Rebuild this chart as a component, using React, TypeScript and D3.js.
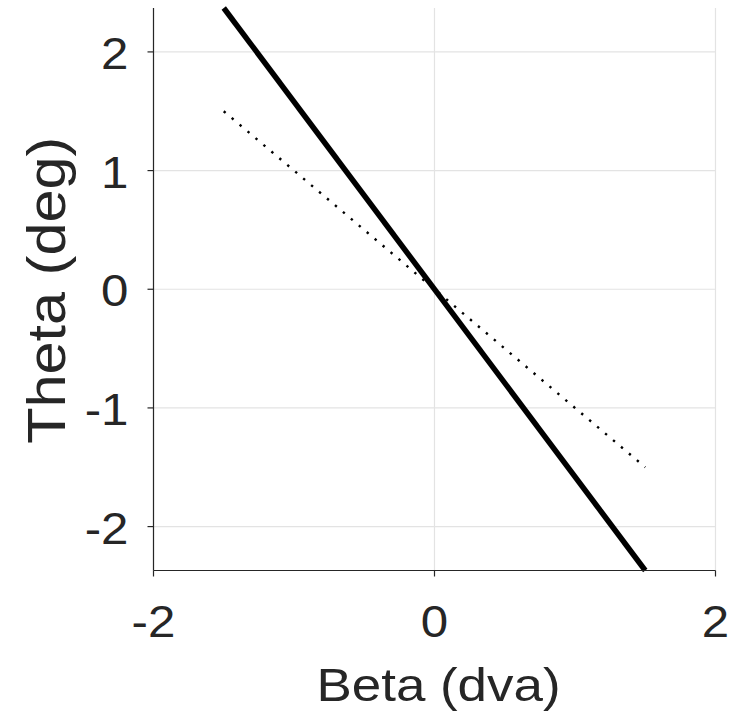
import React from "react";
import * as d3 from "d3";

const xTicks = [-2, 0, 2];
const yTicks = [-2, -1, 0, 1, 2];
const xDomain = [-2, 2];
const yDomain = [-2.37, 2.37];
const solidX = [-1.5, 1.5];
const solidY = [2.37, -2.37];
const dottedX = [-1.5, 1.5];
const dottedY = [1.5, -1.5];
const xLabel = "Beta (dva)";
const yLabel = "Theta (deg)";

const W = 737;
const H = 717;
const left = 153.5;
const right = 715.5;
const top = 8;
const bottom = 570.5;
const textColor = "#262626";
const font = "'Liberation Sans', Arial, Helvetica, sans-serif";

export default function App() {
  const x = d3.scaleLinear().domain(xDomain).range([left, right]);
  const y = d3.scaleLinear().domain(yDomain).range([bottom, top]);
  const line = d3
    .line<[number, number]>()
    .x((d) => x(d[0]))
    .y((d) => y(d[1]));
  const solid = solidX.map((v, i) => [v, solidY[i]] as [number, number]);
  const dotted = dottedX.map((v, i) => [v, dottedY[i]] as [number, number]);

  return (
    <svg
      width={W}
      height={H}
      style={{ position: "absolute", left: 0, top: 0, background: "#fff" }}
      fontFamily={font}
    >
      <rect x={0} y={0} width={W} height={H} fill="#fff" />
      {/* grid */}
      {xTicks.map((t) => (
        <line
          key={"gx" + t}
          x1={x(t)}
          x2={x(t)}
          y1={top}
          y2={bottom}
          stroke="#e3e3e3"
          strokeWidth={1.2}
        />
      ))}
      {yTicks.map((t) => (
        <line
          key={"gy" + t}
          x1={left}
          x2={right}
          y1={y(t)}
          y2={y(t)}
          stroke="#e3e3e3"
          strokeWidth={1.2}
        />
      ))}
      {/* data */}
      <path
        d={line(dotted) || ""}
        fill="none"
        stroke="#000"
        strokeWidth={2.4}
        strokeDasharray="2.4 8"
      />
      <path d={line(solid) || ""} fill="none" stroke="#000" strokeWidth={5.5} />
      {/* axes */}
      <line x1={left} x2={left} y1={top} y2={bottom} stroke={textColor} strokeWidth={1.2} />
      <line x1={left} x2={right} y1={bottom} y2={bottom} stroke={textColor} strokeWidth={1.2} />
      {yTicks.map((t) => (
        <g key={"ty" + t}>
          <line x1={left - 6} x2={left} y1={y(t)} y2={y(t)} stroke={textColor} strokeWidth={1.2} />
          <text
            transform={`translate(${left - 25},${y(t) + 17}) scale(1.12,1)`}
            textAnchor="end"
            fontSize={44}
            fill={textColor}
          >
            {t < 0 ? "-" + Math.abs(t) : String(t)}
          </text>
        </g>
      ))}
      {xTicks.map((t) => (
        <g key={"tx" + t}>
          <line x1={x(t)} x2={x(t)} y1={bottom} y2={bottom + 6} stroke={textColor} strokeWidth={1.2} />
          <text
            transform={`translate(${x(t)},${bottom + 66}) scale(1.12,1)`}
            textAnchor="middle"
            fontSize={44}
            fill={textColor}
          >
            {t < 0 ? "-" + Math.abs(t) : String(t)}
          </text>
        </g>
      ))}
      <text
        transform={`translate(${(left + right) / 2 + 4},${701}) scale(1.15,1)`}
        textAnchor="middle"
        fontSize={46}
        fill={textColor}
      >
        {xLabel}
      </text>
      <text
        transform={`translate(65,${(top + bottom) / 2 + 1}) rotate(-90) scale(1.1,1)`}
        textAnchor="middle"
        fontSize={54}
        fill={textColor}
      >
        {yLabel}
      </text>
    </svg>
  );
}
